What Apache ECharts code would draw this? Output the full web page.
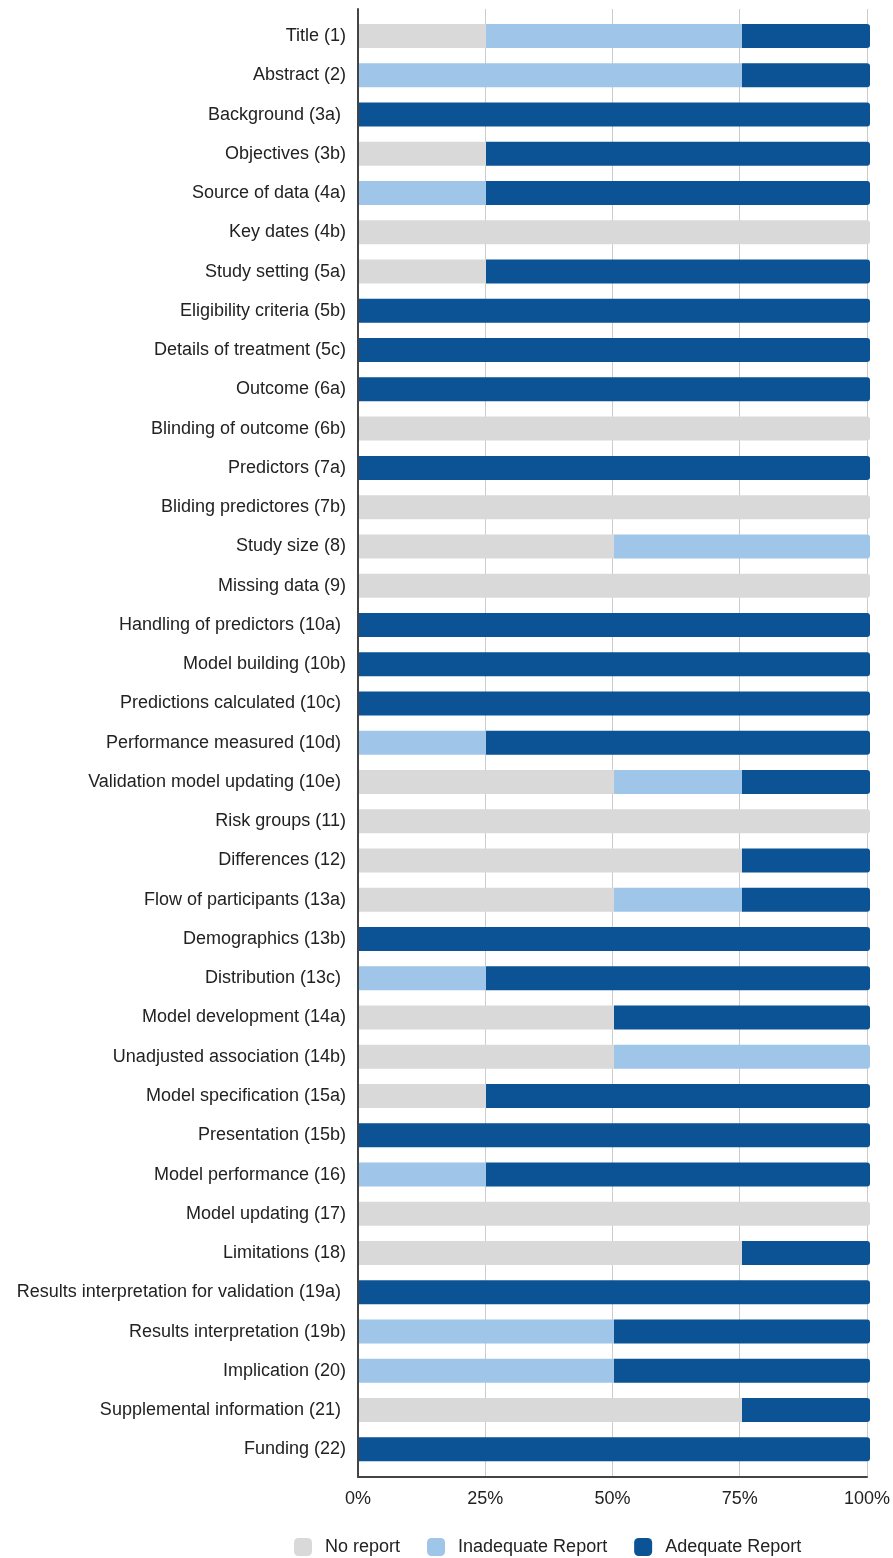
<!DOCTYPE html>
<html>
<head>
<meta charset="utf-8">
<script src="https://cdn.jsdelivr.net/npm/echarts@6/dist/echarts.min.js"></script>
<style>
  html, body { margin: 0; padding: 0; background: #fff; }
  #chart { width: 893px; height: 1558px; }
</style>
</head>
<body>
<div id="chart"></div>
<script>
// TRIPOD checklist items, top to bottom
const categories = [
  'Title (1)', 'Abstract (2)', 'Background (3a) ', 'Objectives (3b)', 'Source of data (4a)',
  'Key dates (4b)', 'Study setting (5a)', 'Eligibility criteria (5b)', 'Details of treatment (5c)',
  'Outcome (6a)', 'Blinding of outcome (6b)', 'Predictors (7a)', 'Bliding predictores (7b)',
  'Study size (8)', 'Missing data (9)', 'Handling of predictors (10a) ', 'Model building (10b)',
  'Predictions calculated (10c) ', 'Performance measured (10d) ', 'Validation model updating (10e) ',
  'Risk groups (11)', 'Differences (12)', 'Flow of participants (13a)', 'Demographics (13b)',
  'Distribution (13c) ', 'Model development (14a)', 'Unadjusted association (14b)',
  'Model specification (15a)', 'Presentation (15b)', 'Model performance (16)', 'Model updating (17)',
  'Limitations (18)', 'Results interpretation for validation (19a) ', 'Results interpretation (19b)',
  'Implication (20)', 'Supplemental information (21) ', 'Funding (22)'
];

// Share of studies (%) per reporting level
const noReport = [25, 0, 0, 25, 0, 100, 25, 0, 0, 0, 100, 0, 100, 50, 100, 0, 0, 0, 0, 50,
                  100, 75, 50, 0, 0, 50, 50, 25, 0, 0, 100, 75, 0, 0, 0, 75, 0];
const inadequate = [50, 75, 0, 0, 25, 0, 0, 0, 0, 0, 0, 0, 0, 50, 0, 0, 0, 0, 25, 25,
                    0, 0, 25, 0, 25, 0, 50, 0, 0, 25, 0, 0, 0, 50, 50, 0, 0];
const adequate = [25, 25, 100, 75, 75, 0, 75, 100, 100, 100, 0, 100, 0, 0, 0, 100, 100, 100, 75, 25,
                  0, 25, 25, 100, 75, 50, 0, 75, 100, 75, 0, 25, 100, 50, 50, 25, 100];

const xTicks = [0, 25, 50, 75, 100];
const seriesNames = ['No report', 'Inadequate Report', 'Adequate Report'];
const seriesColors = ['#d9d9d9', '#9fc5e8', '#0b5394'];
const seriesValues = [noReport, inadequate, adequate];

const FONT = '"Liberation Sans", Arial, Helvetica, sans-serif';

// index of the right-most non-empty segment in each row (gets the rounded end)
const lastSeg = categories.map((_, i) => {
  let last = -1;
  seriesValues.forEach((vals, s) => { if (vals[i] > 0) last = s; });
  return last;
});

const series = seriesValues.map((vals, s) => ({
  name: seriesNames[s],
  type: 'bar',
  stack: 'total',
  xAxisIndex: 0,
  yAxisIndex: 0,
  barWidth: 24,
  itemStyle: { color: seriesColors[s] },
  emphasis: { disabled: true },
  data: vals.map((v, i) => ({
    value: v,
    itemStyle: { borderRadius: lastSeg[i] === s ? [0, 3, 3, 0] : 0 }
  }))
}));

const chart = echarts.init(document.getElementById('chart'), null, { renderer: 'canvas' });
chart.setOption({
  animation: false,
  backgroundColor: '#fff',
  textStyle: { fontFamily: FONT },
  grid: [
    // band area holding the bars and category labels
    { left: 358, width: 512, top: 16.4, height: 1452.6 },
    // plot frame: gridlines, axes, percent labels
    { left: 358, width: 512, top: 9, height: 1468 }
  ],
  xAxis: [
    { gridIndex: 0, type: 'value', min: 0, max: 100, show: false },
    {
      gridIndex: 1, type: 'value', min: xTicks[0], max: xTicks[xTicks.length - 1], interval: 25,
      axisLine: { show: true, onZero: false, lineStyle: { color: '#444', width: 2 } },
      axisTick: { show: false },
      splitLine: { show: true, lineStyle: { color: '#cccccc', width: 1 } },
      axisLabel: { formatter: '{value}%', fontSize: 18, color: '#222', margin: 13, fontFamily: FONT }
    }
  ],
  yAxis: [
    {
      gridIndex: 0, type: 'category', inverse: true, data: categories,
      axisLine: { show: false }, axisTick: { show: false }, splitLine: { show: false },
      axisLabel: { fontSize: 18, color: '#222', margin: 12, fontFamily: FONT, interval: 0 }
    },
    {
      gridIndex: 1, type: 'value', min: 0, max: 1, z: 5,
      axisLine: { show: true, onZero: false, lineStyle: { color: '#444', width: 2 } },
      axisTick: { show: false }, axisLabel: { show: false }, splitLine: { show: false }
    }
  ],
  legend: {
    data: seriesNames,
    left: 289,
    top: 1533,
    orient: 'horizontal',
    icon: 'roundRect',
    itemWidth: 18,
    itemHeight: 18,
    itemGap: 27,
    selectedMode: false,
    textStyle: { fontSize: 18, color: '#222', fontFamily: FONT, padding: [0, 0, 0, 8] }
  },
  series: series
});
</script>
</body>
</html>
